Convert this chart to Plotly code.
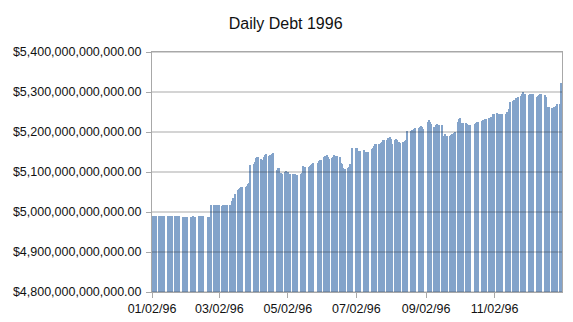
import pandas as pd
import plotly.graph_objects as go

# ---- data (billions of dollars, one value per business day of 1996) ----
holidays = ["1996-01-15", "1996-02-19", "1996-05-27", "1996-07-04", "1996-09-02",
            "1996-10-14", "1996-11-11", "1996-11-28", "1996-12-25"]

debt_billions = [
    4989, 4989, 4989, 4989,            # Jan 2-5
    4989, 4989, 4989, 4989, 4989,      # Jan 8-12
    4989, 4989, 4989, 4989,            # Jan 16-19
    4989, 4989, 4989, 4989, 4989,      # Jan 22-26
    4988, 4988, 4988, 4988, 4988,      # Jan 29-Feb 2
    4988, 4988, 4989, 4988, 4988,      # Feb 5-9
    4989, 4989, 4989, 4989, 4989,      # Feb 12-16
    4988, 4988, 4988, 5017,            # Feb 20-23
    5017, 5017, 5017, 5017, 5017,      # Feb 26-Mar 1
    5016, 5017, 5017, 5017, 5017,      # Mar 4-8
    5017, 5018, 5028, 5036, 5045,      # Mar 11-15
    5055, 5058, 5061, 5062, 5062,      # Mar 18-22
    5062, 5066, 5070, 5072, 5117,      # Mar 25-29
    5119, 5125, 5134, 5137, 5137,      # Apr 1-5
    5133, 5131, 5137, 5143, 5146,      # Apr 8-12
    5141, 5143, 5146, 5147, None,      # Apr 15-19
    5105, 5109, 5111, 5097, 5096,      # Apr 22-26
    5100, 5102, 5098, 5099, 5094,      # Apr 29-May 3
    5094, 5090, 5094, 5090, 5092,      # May 6-10
    5094, 5097, 5115, 5113, 5113,      # May 13-17
    5113, 5115, 5117, 5119, 5122,      # May 20-24
    5123, 5127, 5129, 5129,            # May 28-31
    5137, 5140, 5143, 5138, 5133,      # Jun 3-7
    5135, 5138, 5143, 5140, 5140,      # Jun 10-14
    5137, 5122, 5119, 5110, 5108,      # Jun 17-21
    5111, 5113, 5119, 5120, 5160,      # Jun 24-28
    5159, 5160, 5153, 5152,            # Jul 1-5
    5155, 5151, 5148, 5149, 5151,      # Jul 8-12
    5157, 5161, 5166, 5169, 5169,      # Jul 15-19
    5170, 5172, 5176, 5181, 5181,      # Jul 22-26
    5181, 5186, 5188, 5183, 5170,      # Jul 29-Aug 2
    5181, 5183, 5180, 5174, 5172,      # Aug 5-9
    5174, 5176, 5178, 5179, 5202,      # Aug 12-16
    5202, 5204, 5205, 5207, 5209,      # Aug 19-23
    5211, 5213, 5215, 5212, 5207,      # Aug 26-30
    5226, 5229, 5224, 5220,            # Sep 3-6
    5213, 5217, 5219, 5217, 5217,      # Sep 9-13
    5217, 5191, 5195, 5191, 5191,      # Sep 16-20
    5191, 5192, 5195, 5198, 5199,      # Sep 23-27
    5226, 5232, 5236, 5222, 5222,      # Sep 30-Oct 4
    5222, 5221, 5217, 5217, 5217,      # Oct 7-11
    5221, 5222, 5224, 5226,            # Oct 15-18
    5227, 5229, 5230, 5233, 5233,      # Oct 21-25
    5234, 5237, 5238, 5246, 5245,      # Oct 28-Nov 1
    5247, 5246, 5244, 5244, 5244,      # Nov 4-8
    5246, 5251, 5257, 5276,            # Nov 12-15
    5278, 5279, 5280, 5284, 5287,      # Nov 18-22
    5290, 5296, 5299, 5296,            # Nov 25-29
    5293, 5294, 5294, 5293, 5294,      # Dec 2-6
    5288, 5291, 5293, 5294, 5294,      # Dec 9-13
    5293, 5288, 5262, 5260, 5262,      # Dec 16-20
    5261, 5263, 5266, 5269,            # Dec 23-27
    5269, 5323,                        # Dec 30-31
]

y_tick_vals = [4800, 4900, 5000, 5100, 5200, 5300, 5400]
y_tick_text = ["$4,800,000,000,000.00", "$4,900,000,000,000.00", "$5,000,000,000,000.00",
               "$5,100,000,000,000.00", "$5,200,000,000,000.00", "$5,300,000,000,000.00",
               "$5,400,000,000,000.00"]
x_tick_vals = ["1996-01-02", "1996-03-02", "1996-05-02", "1996-07-02", "1996-09-02", "1996-11-02"]
x_tick_text = ["01/02/96", "03/02/96", "05/02/96", "07/02/96", "09/02/96", "11/02/96"]

days = pd.bdate_range("1996-01-02", "1996-12-31")
days = [d for d in days if d.strftime("%Y-%m-%d") not in holidays]
dates = [d.strftime("%Y-%m-%d") for d in days]
assert len(dates) == len(debt_billions), (len(dates), len(debt_billions))

DAY_MS = 86400000
FONT = "Liberation Sans, Arial, sans-serif"
AXIS_GREY = "#a8a8a8"

fig = go.Figure()
fig.add_trace(go.Bar(
    x=dates, y=debt_billions,
    width=DAY_MS, offset=0,
    marker=dict(color="#83a3ca", line=dict(width=0)),
    hoverinfo="x+y",
))

# gridlines drawn above the bars, as in the reference
for v in y_tick_vals:
    fig.add_shape(type="line", xref="paper", x0=0, x1=1, yref="y", y0=v, y1=v,
                  line=dict(color="rgba(40,40,40,0.4)", width=1), layer="above")

fig.update_layout(
    width=573, height=322,
    margin=dict(l=152, r=11, t=52, b=30),
    paper_bgcolor="white", plot_bgcolor="white",
    font=dict(family=FONT, size=12.5, color="#111111"),
    title=dict(text="Daily Debt 1996", x=0.4985, xanchor="center",
               y=1 - 23 / 322, yanchor="middle", yref="container",
               font=dict(family=FONT, size=16, color="#111111")),
    showlegend=False,
    bargap=0,
)
fig.update_xaxes(
    type="date", range=["1996-01-02", "1997-01-01"], automargin=False,
    tickmode="array", tickvals=x_tick_vals, ticktext=x_tick_text,
    ticks="outside", ticklen=5, tickcolor=AXIS_GREY,
    tickfont=dict(family=FONT, size=12.5, color="#111111"),
    showline=True, linecolor=AXIS_GREY, linewidth=1, mirror=True,
    showgrid=False, zeroline=False,
)
fig.update_yaxes(
    range=[4800, 5400], automargin=False,
    tickmode="array", tickvals=y_tick_vals, ticktext=y_tick_text,
    ticks="outside", ticklen=5, tickcolor=AXIS_GREY,
    tickfont=dict(family=FONT, size=12.5, color="#111111"),
    ticklabelstandoff=2,
    showline=True, linecolor=AXIS_GREY, linewidth=1, mirror=True,
    showgrid=False, zeroline=False,
)

fig.write_html("out.html")
